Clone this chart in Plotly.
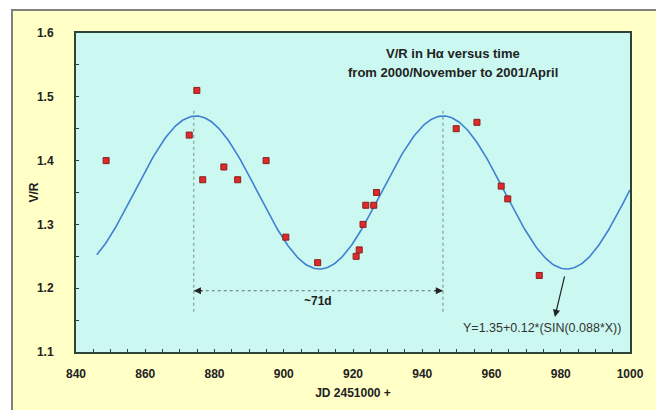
import numpy as np
import plotly.graph_objects as go

# Observed V/R values
jd = [848.7, 872.7, 874.9, 876.6, 882.7, 886.7, 894.9, 900.6, 909.8, 920.9,
      921.8, 922.9, 923.7, 926.0, 926.8, 949.8, 955.8, 962.8, 964.7, 973.8]
vr = [1.40, 1.44, 1.51, 1.37, 1.39, 1.37, 1.40, 1.28, 1.24, 1.25,
      1.26, 1.30, 1.33, 1.33, 1.35, 1.45, 1.46, 1.36, 1.34, 1.22]

# Fit stated on the chart: Y = 1.35 + 0.12*(SIN(0.088*X))
fit_offset = 1.35
fit_amp = 0.12
fit_freq = 0.088
fit_start, fit_end = 846, 1000

x_ticks = [840, 860, 880, 900, 920, 940, 960, 980, 1000]
y_ticks = [1.1, 1.2, 1.3, 1.4, 1.5, 1.6]

peak1, peak2 = 874.0, 946.0

fx = np.linspace(fit_start, fit_end, 400)
fy = fit_offset + fit_amp * np.sin(fit_freq * fx)

FONT = "Liberation Sans, Arial, sans-serif"

fig = go.Figure()
fig.add_trace(go.Scatter(x=fx, y=fy, mode="lines",
                         line=dict(color="#3f80d2", width=1.6),
                         hoverinfo="skip", showlegend=False))
fig.add_trace(go.Scatter(x=jd, y=vr, mode="markers",
                         marker=dict(symbol="square", size=6, color="#dd2a2a",
                                     line=dict(color="#8a1f1f", width=1)),
                         showlegend=False))

shapes = [
    dict(type="line", xref="x", yref="y", x0=peak1, x1=peak1, y0=1.163, y1=1.483,
         line=dict(color="#8fb0a8", width=1.5, dash="dot")),
    dict(type="line", xref="x", yref="y", x0=peak2, x1=peak2, y0=1.163, y1=1.483,
         line=dict(color="#8fb0a8", width=1.5, dash="dot")),
    dict(type="line", xref="x", yref="y", x0=peak1, x1=peak2, y0=1.196, y1=1.196,
         line=dict(color="#667070", width=1.2, dash="dot")),
]

annotations = [
    dict(x=0.6805, y=0.937, xref="paper", yref="paper", xanchor="center", yanchor="middle",
         text="V/R in Hα versus time",
         showarrow=False, font=dict(family=FONT, size=13, color="#222222", weight="bold")),
    dict(x=0.6805, y=0.875, xref="paper", yref="paper", xanchor="center", yanchor="middle",
         text="from 2000/November to 2001/April",
         showarrow=False, font=dict(family=FONT, size=13, color="#222222", weight="bold")),
    dict(x=-0.0776, y=0.5, xref="paper", yref="paper", xanchor="center", yanchor="middle",
         text="V/R", textangle=-90, showarrow=False,
         font=dict(family=FONT, size=12, color="#222222", weight="bold")),
    dict(x=peak1, y=1.196, ax=peak1 + 3, ay=1.196, xref="x", yref="y", axref="x", ayref="y",
         showarrow=True, arrowhead=2, arrowsize=1.2, arrowwidth=1.2, arrowcolor="#222222", text=""),
    dict(x=peak2, y=1.196, ax=peak2 - 3, ay=1.196, xref="x", yref="y", axref="x", ayref="y",
         showarrow=True, arrowhead=2, arrowsize=1.2, arrowwidth=1.2, arrowcolor="#222222", text=""),
    dict(x=910.0, y=1.18, xref="x", yref="y", text="~71d", showarrow=False,
         font=dict(family=FONT, size=12, color="#222222", weight="bold")),
    dict(x=978.3, y=1.155, ax=981.2, ay=1.221, xref="x", yref="y", axref="x", ayref="y",
         showarrow=True, arrowhead=2, arrowsize=1.2, arrowwidth=1.2, arrowcolor="#222222", text=""),
    dict(x=974.6, y=1.1376, xref="x", yref="y", text="Y=1.35+0.12*(SIN(0.088*X))",
         showarrow=False, font=dict(family=FONT, size=12.5, color="#333333")),
]

fig.update_layout(
    width=643, height=399,
    margin=dict(l=63, r=26, t=22, b=58),
    paper_bgcolor="#ffffc6",
    plot_bgcolor="#cbf9f1",
    shapes=shapes,
    annotations=annotations,
    font=dict(family=FONT, size=12, color="#222222"),
    showlegend=False,
)
fig.update_xaxes(range=[840, 1000], tickvals=x_ticks, ticktext=[str(v) for v in x_ticks],
                 showgrid=False, zeroline=False, showline=True, linecolor="#2e4238",
                 linewidth=2, mirror=True, ticks="inside", ticklen=3, tickcolor="#2e4238",
                 minor=dict(dtick=5, tick0=840, ticks="inside", ticklen=3, tickcolor="#2e4238"),
                 tickfont=dict(family=FONT, size=12, weight="bold"), ticklabelstandoff=10,
                 title=dict(text="JD 2451000 +", font=dict(family=FONT, size=12, weight="bold"),
                            standoff=8))
fig.update_yaxes(range=[1.1, 1.6], tickvals=y_ticks, ticktext=[f"{v:.1f}" for v in y_ticks],
                 showgrid=False, zeroline=False, showline=True, linecolor="#2e4238",
                 linewidth=2, mirror=True, ticks="inside", ticklen=3, tickcolor="#2e4238",
                 minor=dict(dtick=0.05, tick0=1.1, ticks="inside", ticklen=3, tickcolor="#2e4238"),
                 tickfont=dict(family=FONT, size=12, weight="bold"), ticklabelstandoff=18)

post = (
    "document.body.style.margin='0';"
    "document.body.style.overflow='hidden';"
    "document.body.style.background='white';"
    "var d=document.getElementById('{plot_id}');"
    "d.style.marginLeft='11px';d.style.marginTop='9px';"
    "d.style.borderLeft='2px solid #808080';d.style.borderTop='2px solid #808080';"
)
fig.write_html("out.html", config={"displayModeBar": False}, post_script=post)
